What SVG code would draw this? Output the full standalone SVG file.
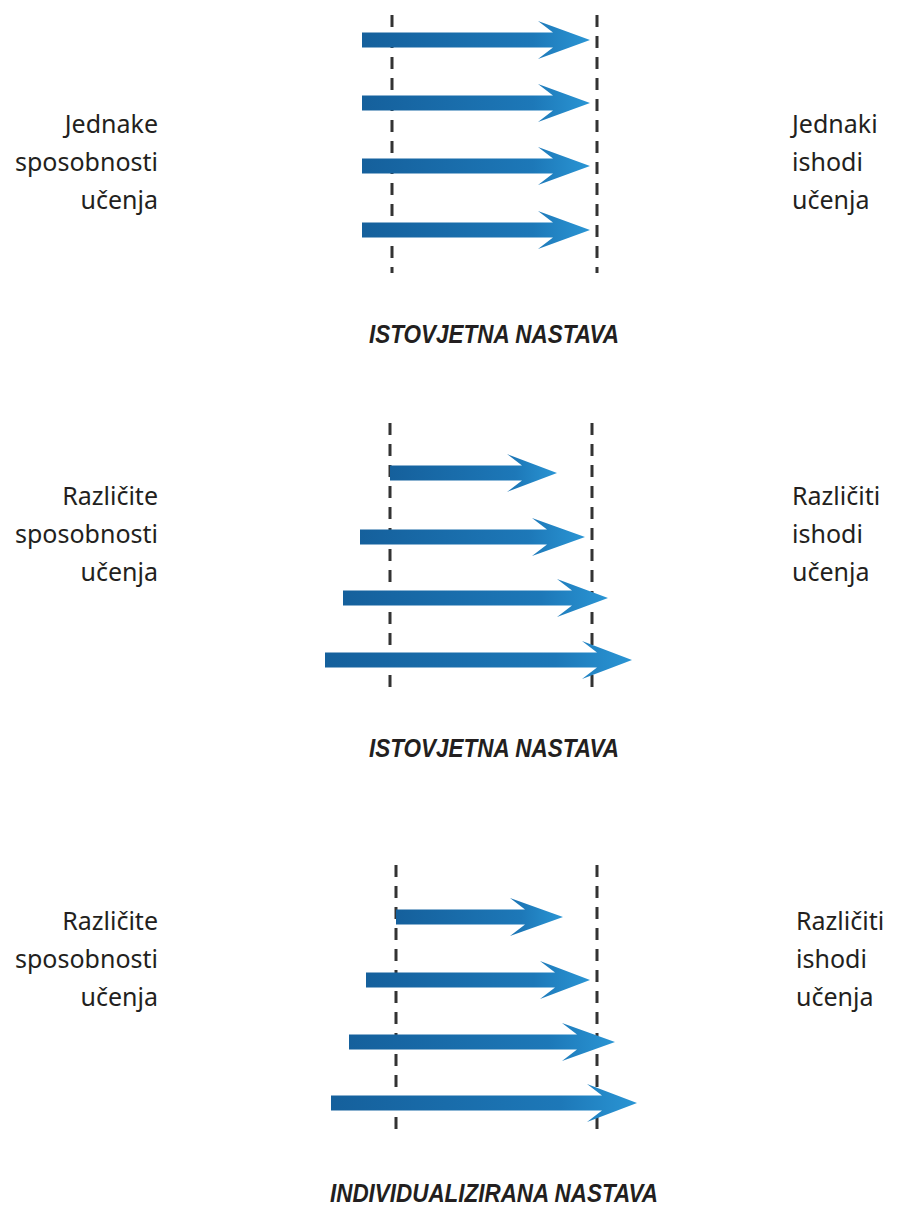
<svg xmlns="http://www.w3.org/2000/svg" width="909" height="1207" viewBox="0 0 909 1207">
<defs>
<linearGradient id="ag" x1="0" y1="0" x2="1" y2="0">
<stop offset="0" stop-color="#15609c"/>
<stop offset="0.75" stop-color="#1d78b8"/>
<stop offset="1" stop-color="#2a95d4"/>
</linearGradient>
</defs>
<style>
.lbl{font-family:"Noto Sans","DejaVu Sans",sans-serif;font-size:25px;fill:#231f20}
.l{text-anchor:end}
.ttl{font-family:"Liberation Sans",Arial,sans-serif;font-size:26px;font-weight:bold;font-style:italic;fill:#231f20}
.dash{stroke:#333;stroke-width:3;stroke-dasharray:12 9;fill:none}
.arr{fill:url(#ag)}
</style>
<rect width="909" height="1207" fill="#fff"/>

<g id="panel1">
<g id="p1-labels">
<text class="lbl l" x="158" y="133">Jednake</text>
<text class="lbl l" x="158" y="171">sposobnosti</text>
<text class="lbl l" x="158" y="209">učenja</text>
<text class="lbl" x="792" y="133">Jednaki</text>
<text class="lbl" x="792" y="171">ishodi</text>
<text class="lbl" x="792" y="209">učenja</text>
</g>
<g id="p1-connectors">
<line class="dash" x1="392" y1="15" x2="392" y2="273"/>
<line class="dash" x1="597" y1="15" x2="597" y2="273"/>
<path class="arr" d="M362,32.5 L553,32.5 L538,21 L590,40 L538,59 L553,47.5 L362,47.5 Z"/>
<path class="arr" d="M362,95.5 L553,95.5 L538,84 L590,103 L538,122 L553,110.5 L362,110.5 Z"/>
<path class="arr" d="M362,158.5 L553,158.5 L538,147 L590,166 L538,185 L553,173.5 L362,173.5 Z"/>
<path class="arr" d="M362,222.5 L553,222.5 L538,211 L590,230 L538,249 L553,237.5 L362,237.5 Z"/>
</g>
<text id="title1" class="ttl" x="494" y="343" text-anchor="middle" textLength="250" lengthAdjust="spacingAndGlyphs">ISTOVJETNA NASTAVA</text>
</g>

<g id="panel2">
<g id="p2-labels">
<text class="lbl l" x="158" y="505">Različite</text>
<text class="lbl l" x="158" y="543">sposobnosti</text>
<text class="lbl l" x="158" y="581">učenja</text>
<text class="lbl" x="792" y="505">Različiti</text>
<text class="lbl" x="792" y="543">ishodi</text>
<text class="lbl" x="792" y="581">učenja</text>
</g>
<g id="p2-connectors">
<line class="dash" x1="390" y1="423" x2="390" y2="687"/>
<line class="dash" x1="592" y1="423" x2="592" y2="687"/>
<path class="arr" d="M390,465.5 L522,465.5 L507,454 L557,473 L507,492 L522,480.5 L390,480.5 Z"/>
<path class="arr" d="M360,529.5 L547,529.5 L532,518 L585,537 L532,556 L547,544.5 L360,544.5 Z"/>
<path class="arr" d="M343,590.5 L572,590.5 L557,579 L608,598 L557,617 L572,605.5 L343,605.5 Z"/>
<path class="arr" d="M325,652.5 L597,652.5 L582,641 L632,660 L582,679 L597,667.5 L325,667.5 Z"/>
</g>
<text id="title2" class="ttl" x="494" y="757" text-anchor="middle" textLength="250" lengthAdjust="spacingAndGlyphs">ISTOVJETNA NASTAVA</text>
</g>

<g id="panel3">
<g id="p3-labels">
<text class="lbl l" x="158" y="930">Različite</text>
<text class="lbl l" x="158" y="968">sposobnosti</text>
<text class="lbl l" x="158" y="1006">učenja</text>
<text class="lbl" x="796" y="930">Različiti</text>
<text class="lbl" x="796" y="968">ishodi</text>
<text class="lbl" x="796" y="1006">učenja</text>
</g>
<g id="p3-connectors">
<line class="dash" x1="396" y1="865" x2="396" y2="1130"/>
<line class="dash" x1="597" y1="865" x2="597" y2="1130"/>
<path class="arr" d="M396,909.5 L525,909.5 L510,898 L563,917 L510,936 L525,924.5 L396,924.5 Z"/>
<path class="arr" d="M366,972.5 L555,972.5 L540,961 L590,980 L540,999 L555,987.5 L366,987.5 Z"/>
<path class="arr" d="M349,1034.5 L577,1034.5 L562,1023 L615,1042 L562,1061 L577,1049.5 L349,1049.5 Z"/>
<path class="arr" d="M331,1095.5 L602,1095.5 L587,1084 L637,1103 L587,1122 L602,1110.5 L331,1110.5 Z"/>
</g>
<text id="title3" class="ttl" x="330" y="1202" textLength="328" lengthAdjust="spacingAndGlyphs">INDIVIDUALIZIRANA NASTAVA</text>
</g>
</svg>
